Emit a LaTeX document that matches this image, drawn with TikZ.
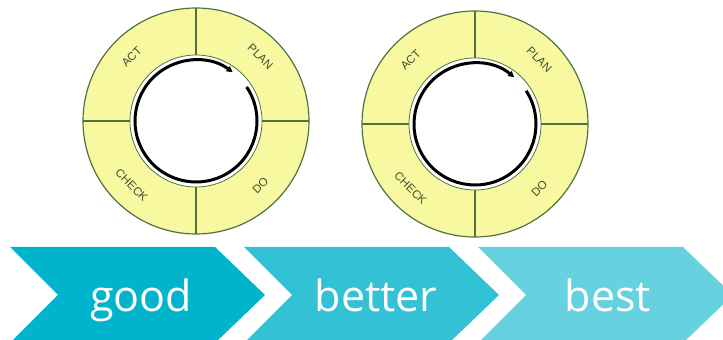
\documentclass[tikz,border=0pt]{standalone}
\usepackage{fontspec}
\setmainfont{Liberation Sans}
\newfontfamily\chevfont{Open Sans}
\usepackage{xcolor}
\usepackage{tikz}
\usetikzlibrary{arrows.meta, calc}

\definecolor{ringfill}{HTML}{F8F8A0}
\definecolor{ringline}{HTML}{4E7340}
\definecolor{ringtext}{HTML}{3F4F30}
\definecolor{chevA}{HTML}{00B4CB}
\definecolor{chevB}{HTML}{33C2D5}
\definecolor{chevC}{HTML}{66D1DF}

\begin{document}
\begin{tikzpicture}[x=1pt, y=1pt,
    ring/.style={fill=ringfill, draw=ringline, line width=1.2pt},
    divider/.style={draw=ringline, line width=1.2pt},
    lbl/.style={text=ringtext, font=\fontsize{11.5}{11.5}\selectfont, inner sep=0pt},
    cycle arrow/.style={line width=3pt, -{Triangle[length=6pt, width=6pt]}},
    chevtext/.style={text=white, font=\chevfont\fontsize{43}{43}\selectfont, inner sep=0pt}]
  \useasboundingbox (0,0) rectangle (723,340);
  \clip (0,0) rectangle (723,340);

  % first PDCA ring
  \begin{scope}[shift={(196,219)}]
    \coordinate (O1) at (0,0);
    \path[ring] (O1) circle[radius=113];
    \draw[divider] (0:66) -- (0:113) (90:66) -- (90:113)
                   (180:66) -- (180:113) (270:66) -- (270:113);
    \path[fill=white, draw=ringline, line width=0.8pt] (O1) circle[radius=66];
    \draw[cycle arrow] (34:61) arc[start angle=34, end angle=-307, radius=61];

    \node[lbl, rotate=45]  (act1)   at (135:91) {ACT};
    \node[lbl, rotate=-45] (plan1)  at (45:91)  {PLAN};
    \node[lbl, rotate=-45] (check1) at (225:91) {CHECK};
    \node[lbl, rotate=45]  (do1)    at (-45:91) {DO};
  \end{scope}

  % second PDCA ring
  \begin{scope}[shift={(475,216)}]
    \coordinate (O2) at (0,0);
    \path[ring] (O2) circle[radius=113];
    \draw[divider] (0:66) -- (0:113) (90:66) -- (90:113)
                   (180:66) -- (180:113) (270:66) -- (270:113);
    \path[fill=white, draw=ringline, line width=0.8pt] (O2) circle[radius=66];
    \draw[cycle arrow] (33:61) arc[start angle=33, end angle=-310, radius=61];

    \node[lbl, rotate=45]  (act2)   at (135:91) {ACT};
    \node[lbl, rotate=-45] (plan2)  at (45:91)  {PLAN};
    \node[lbl, rotate=-45] (check2) at (225:91) {CHECK};
    \node[lbl, rotate=45]  (do2)    at (-45:91) {DO};
  \end{scope}

  % good chevron
  \begin{scope}[xshift=10pt]
    \fill[chevA] (0,93) -- (205,93) -- (255,45) -- (205,-3) -- (0,-3) -- (48,45) -- cycle;
    \node[chevtext, anchor=base] (good) at (131,28) {good};
  \end{scope}

  % better chevron
  \begin{scope}[xshift=244pt]
    \fill[chevB] (0,93) -- (205,93) -- (255,45) -- (205,-3) -- (0,-3) -- (48,45) -- cycle;
    \node[chevtext, anchor=base] (better) at (132,28) {better};
  \end{scope}

  % best chevron
  \begin{scope}[xshift=478pt]
    \fill[chevC] (0,93) -- (205,93) -- (255,45) -- (205,-3) -- (0,-3) -- (48,45) -- cycle;
    \node[chevtext, anchor=base] (best) at (130,28) {best};
  \end{scope}
\end{tikzpicture}
\end{document}
